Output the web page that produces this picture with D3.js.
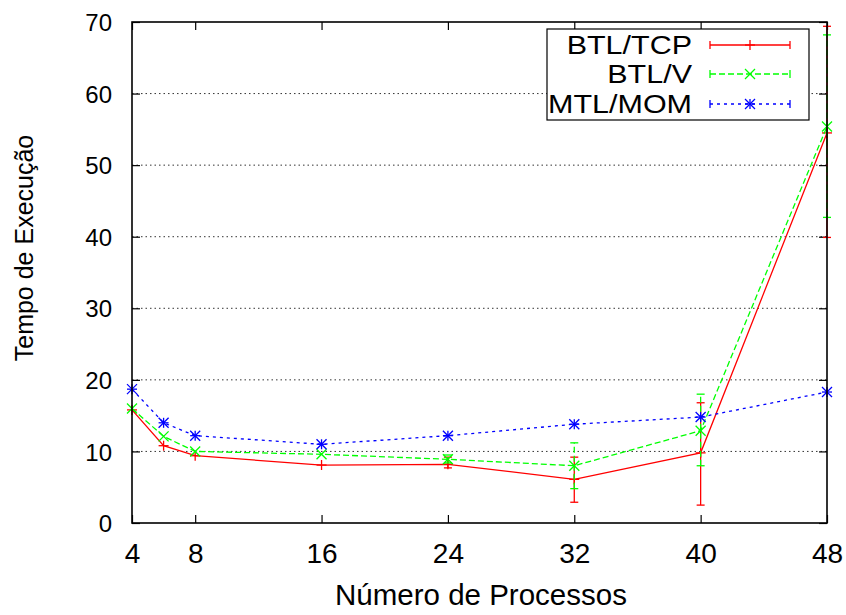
<!DOCTYPE html>
<html lang="pt">
<head>
  <meta charset="UTF-8">
  <title>Tempo de Execução</title>
  <script src="https://cdn.jsdelivr.net/npm/d3@7"></script>
  <style>
    body { margin: 0; background: #fff; }
    text { font-family: "Liberation Sans", Arial, Helvetica, sans-serif; fill: #000; }
  </style>
</head>
<body>
<div id="grafica"></div>

<script>
// numero de processos
processos = [4, 6, 8, 16, 24, 32, 40, 48]
xTicks = [4, 8, 16, 24, 32, 40, 48]
yTicks = [0, 10, 20, 30, 40, 50, 60, 70]

// BTL/TCP
tcp     = [15.8, 10.8, 9.4, 8.1, 8.2, 6.1, 9.8, 54.5]
tcpMin  = [15.8, 10.8, 9.4, 8.1, 7.7, 2.9, 2.5, 39.9]
tcpMax  = [15.8, 10.8, 9.4, 8.1, 9.2, 9.2, 16.8, 69.4]

// BTL/V
btlv    = [16.0, 12.1, 10.0, 9.6, 8.9, 8.0, 12.9, 55.4]
btlvMin = [16.0, 12.1, 10.0, 9.6, 8.4, 4.8, 8.0, 42.7]
btlvMax = [16.0, 12.1, 10.0, 9.6, 9.5, 11.2, 18.0, 68.2]

// MTL/MOM
mom     = [18.7, 14.0, 12.2, 11.0, 12.2, 13.8, 14.8, 18.3]
momMin  = mom.slice()
momMax  = mom.slice()

series = [
  { nome: 'BTL/TCP', cor: '#ff0000', dash: null,  ponto: 'plus',  v: tcp,  lo: tcpMin,  hi: tcpMax },
  { nome: 'BTL/V',   cor: '#00ff00', dash: '6,3', ponto: 'cross', v: btlv, lo: btlvMin, hi: btlvMax },
  { nome: 'MTL/MOM', cor: '#0000ff', dash: '3,4', ponto: 'star',  v: mom,  lo: momMin,  hi: momMax }
]

ancho = 846
alto  = 615

svg = d3.select('#grafica')
        .append('svg')
        .attr('width', ancho)
        .attr('height', alto)

x = d3.scaleLinear().domain([4, 48]).range([132, 827])
y = d3.scaleLinear().domain([0, 70]).range([523, 22])

// grade
svg.append('g')
   .selectAll('line')
   .data(yTicks.slice(1, -1))
   .enter().append('line')
   .attr('x1', x(4)).attr('x2', x(48))
   .attr('y1', d => y(d)).attr('y2', d => y(d))
   .attr('stroke', '#333')
   .attr('stroke-width', 1)
   .attr('stroke-dasharray', '1.5,3')

// eixos (ticks para dentro, espelhados)
function eixo(g) {
  g.select('.domain').remove()
  g.selectAll('.tick line').attr('stroke', '#000').attr('stroke-width', 1.2)
}

gx = svg.append('g').attr('transform', 'translate(0,523)')
        .call(d3.axisBottom(x).tickValues(xTicks).tickSize(-8).tickFormat(d3.format('d')))
gx.call(eixo)
gx.selectAll('text').attr('y', 40).attr('dy', 0).attr('font-size', 28)

svg.append('g').attr('transform', 'translate(0,22)')
   .call(d3.axisTop(x).tickValues(xTicks).tickSize(-8).tickFormat(''))
   .call(eixo)

gy = svg.append('g').attr('transform', 'translate(132,0)')
        .call(d3.axisLeft(y).tickValues(yTicks).tickSize(-8))
gy.call(eixo)
gy.selectAll('text').attr('x', -20).attr('dy', '0.36em').attr('font-size', 24)

svg.append('g').attr('transform', 'translate(827,0)')
   .call(d3.axisRight(y).tickValues(yTicks).tickSize(-8).tickFormat(''))
   .call(eixo)

svg.selectAll('.tick text').attr('font-family', '"Liberation Sans", Arial, sans-serif').attr('fill', '#000')

// titulos
svg.append('text')
   .attr('x', 481).attr('y', 605)
   .attr('text-anchor', 'middle')
   .attr('font-size', 29.5)
   .text('Número de Processos')

svg.append('text')
   .attr('transform', 'translate(33,248) rotate(-90)')
   .attr('text-anchor', 'middle')
   .attr('font-size', 25)
   .text('Tempo de Execução')

// marcadores
function marcador(g, tipo, cx, cy, cor) {
  s = 5
  linhas = []
  if (tipo == 'plus' || tipo == 'star') {
    linhas.push([cx - s, cy, cx + s, cy], [cx, cy - s, cx, cy + s])
  }
  if (tipo == 'cross' || tipo == 'star') {
    linhas.push([cx - s, cy - s, cx + s, cy + s], [cx - s, cy + s, cx + s, cy - s])
  }
  linhas.forEach(function(l) {
    g.append('line')
     .attr('x1', l[0]).attr('y1', l[1]).attr('x2', l[2]).attr('y2', l[3])
     .attr('stroke', cor).attr('stroke-width', 1.3)
  })
}

linha = d3.line()
          .x(d => x(d[0]))
          .y(d => y(d[1]))

series.forEach(function(s) {
  g = svg.append('g')
  pts = processos.map((p, i) => [p, s.v[i]])

  g.append('path')
   .attr('d', linha(pts))
   .attr('fill', 'none')
   .attr('stroke', s.cor)
   .attr('stroke-width', 1.3)
   .attr('stroke-dasharray', s.dash)

  processos.forEach(function(p, i) {
    if (s.hi[i] - s.lo[i] > 0.1) {
      px = x(p)
      g.append('line')
       .attr('x1', px).attr('x2', px)
       .attr('y1', y(s.lo[i])).attr('y2', y(s.hi[i]))
       .attr('stroke', s.cor).attr('stroke-width', 1.3)
       .attr('stroke-dasharray', s.dash)
      ;[s.lo[i], s.hi[i]].forEach(function(e) {
        g.append('line')
         .attr('x1', px - 4).attr('x2', px + 4)
         .attr('y1', y(e)).attr('y2', y(e))
         .attr('stroke', s.cor).attr('stroke-width', 1.3)
      })
    }
    marcador(g, s.ponto, x(p), y(s.v[i]), s.cor)
  })
})

// borda
svg.append('rect')
   .attr('x', x(4)).attr('y', y(70))
   .attr('width', x(48) - x(4)).attr('height', y(0) - y(70))
   .attr('fill', 'none')
   .attr('stroke', '#000')
   .attr('stroke-width', 1.6)

// legenda
leg = svg.append('g')
leg.append('rect')
   .attr('x', 547).attr('y', 29)
   .attr('width', 262).attr('height', 91)
   .attr('fill', '#fff')
   .attr('stroke', '#000')
   .attr('stroke-width', 1.2)

legY = [45, 74, 104]
series.forEach(function(s, i) {
  ly = legY[i]
  leg.append('text')
     .attr('transform', 'translate(692,' + (ly + 9) + ') scale(1.22,1)')
     .attr('text-anchor', 'end')
     .attr('font-size', 25)
     .text(s.nome)
  leg.append('line')
     .attr('x1', 710).attr('x2', 790)
     .attr('y1', ly).attr('y2', ly)
     .attr('stroke', s.cor).attr('stroke-width', 1.3)
     .attr('stroke-dasharray', s.dash)
  ;[710, 790].forEach(function(cx) {
    leg.append('line')
       .attr('x1', cx).attr('x2', cx)
       .attr('y1', ly - 4).attr('y2', ly + 4)
       .attr('stroke', s.cor).attr('stroke-width', 1.3)
  })
  marcador(leg, s.ponto, 750, ly, s.cor)
})
</script>
</body>
</html>
